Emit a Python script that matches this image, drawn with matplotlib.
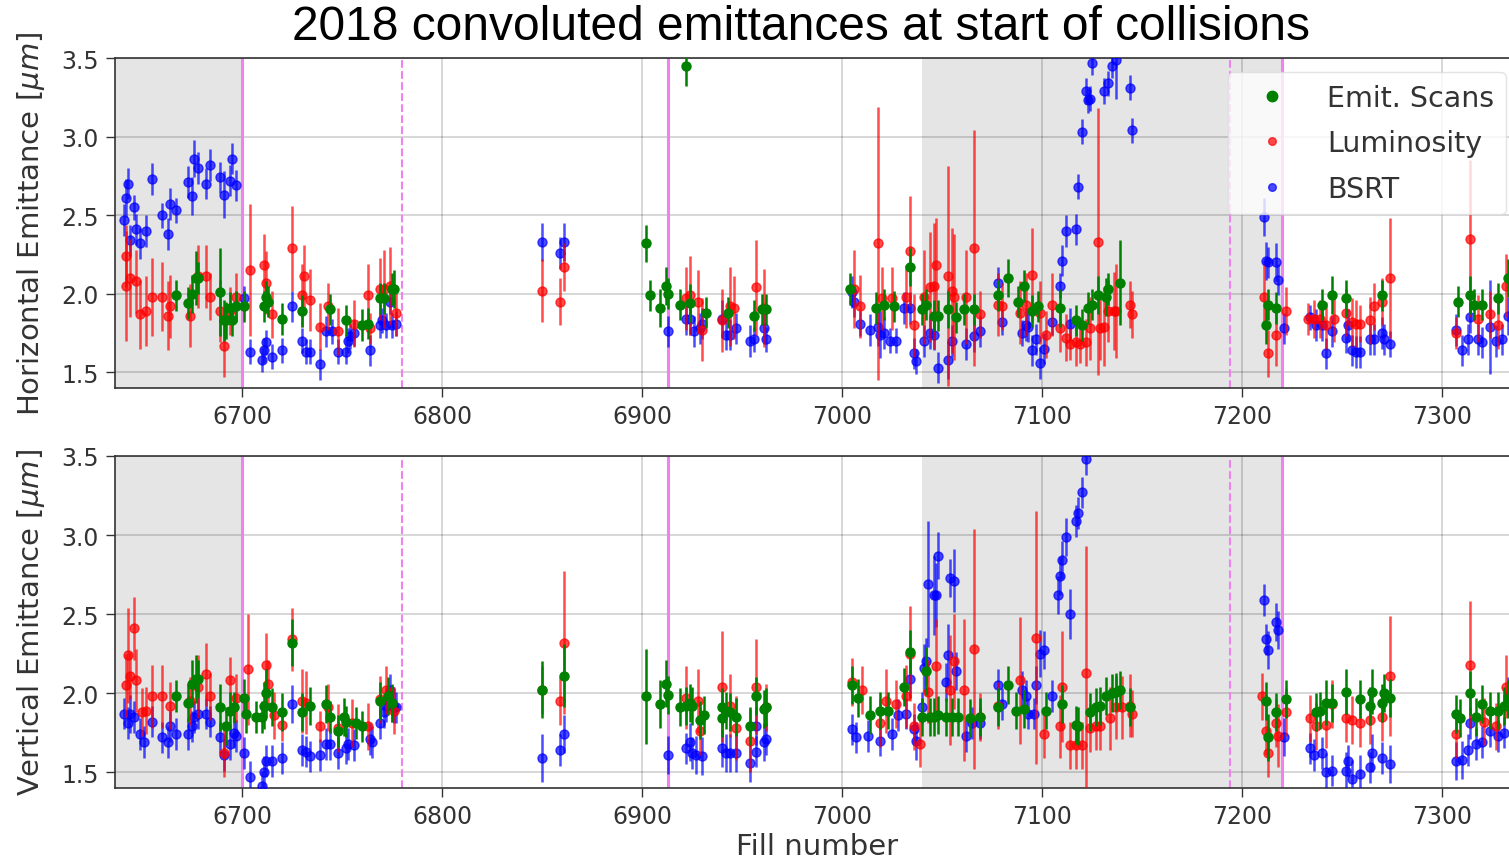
import matplotlib
matplotlib.use("Agg")
import matplotlib.pyplot as plt
from matplotlib.lines import Line2D

# ---------------- horizontal plane ----------------
h_scan_fill = [6667, 6673, 6675, 6677, 6678, 6689, 6691, 6692, 6694, 6695, 6697, 6701, 6711,
               6712, 6713, 6720, 6730, 6744, 6752, 6760, 6763, 6769, 6771, 6775, 6776,
               6902, 6904, 6909, 6912, 6913, 6919, 6922, 6924, 6932, 6943, 6956, 6960, 6962,
               7004, 7017, 7021, 7026, 7034, 7040, 7042, 7046, 7048, 7053, 7057, 7061, 7066,
               7078, 7083, 7088, 7091, 7095, 7098, 7109, 7117, 7120, 7123, 7125, 7128, 7132,
               7133, 7139,
               7212, 7213, 7217, 7240, 7245, 7252, 7270, 7308, 7314, 7316, 7320, 7328, 7333]
h_scan_val = [1.99, 1.94, 2.00, 2.10, 2.10, 2.01, 1.83, 1.83, 1.91, 1.83, 1.92, 1.92, 1.92,
              1.98, 1.95, 1.84, 1.89, 1.90, 1.83, 1.80, 1.81, 1.97, 1.97, 2.03, 2.03,
              2.32, 1.99, 1.91, 2.05, 2.00, 1.93, 3.45, 1.94, 1.88, 1.88, 1.86, 1.90, 1.90,
              2.03, 1.91, 1.93, 1.92, 2.17, 1.90, 1.93, 1.86, 1.86, 1.90, 1.85, 1.90, 1.90,
              1.99, 2.10, 1.95, 2.05, 1.89, 1.92, 1.91, 1.83, 1.80, 1.91, 1.93, 1.99, 1.98,
              2.03, 2.07,
              1.80, 1.93, 1.91, 1.93, 1.99, 1.97, 1.99, 1.95, 1.99, 1.93, 1.93, 1.97, 2.10]
h_scan_err = [0.10, 0.10, 0.12, 0.17, 0.10, 0.28, 0.13, 0.12, 0.10, 0.10, 0.10, 0.10, 0.10,
              0.10, 0.10, 0.10, 0.10, 0.10, 0.10, 0.10, 0.10, 0.10, 0.10, 0.10, 0.12,
              0.12, 0.10, 0.12, 0.12, 0.10, 0.10, 0.13, 0.12, 0.10, 0.10, 0.10, 0.10, 0.10,
              0.10, 0.10, 0.10, 0.10, 0.12, 0.10, 0.10, 0.10, 0.10, 0.12, 0.10, 0.10, 0.10,
              0.10, 0.12, 0.10, 0.10, 0.10, 0.10, 0.12, 0.10, 0.10, 0.10, 0.10, 0.12, 0.12,
              0.10, 0.27,
              0.12, 0.10, 0.10, 0.10, 0.12, 0.12, 0.10, 0.10, 0.12, 0.10, 0.10, 0.10, 0.12]

h_lumi_fill = [6642, 6642, 6644, 6647, 6649, 6652, 6655, 6660, 6663, 6664, 6674, 6678, 6682,
               6684, 6689, 6691, 6694, 6697, 6704, 6711, 6712, 6715, 6725, 6730, 6731, 6734,
               6739, 6743, 6748, 6756, 6763, 6764, 6769, 6771, 6774, 6777,
               6850, 6859, 6861, 6922, 6924, 6928, 6930, 6940, 6944, 6946, 6957, 6961,
               7006, 7009, 7018, 7020, 7025, 7032, 7034, 7036, 7041, 7044, 7046, 7047, 7053,
               7055, 7056, 7062, 7066, 7069, 7078, 7080, 7089, 7092, 7095, 7099, 7102, 7105,
               7109, 7112, 7114, 7117, 7119, 7122, 7124, 7128, 7129, 7131, 7133, 7136, 7137,
               7144, 7145,
               7211, 7213, 7217, 7222, 7233, 7236, 7239, 7242, 7246, 7252, 7255, 7257, 7259,
               7264, 7266, 7270, 7274, 7307, 7314, 7318, 7324, 7328, 7332]
h_lumi_val = [2.05, 2.24, 2.10, 2.08, 1.87, 1.89, 1.98, 1.98, 1.86, 1.92, 1.86, 2.11, 2.11,
              1.98, 1.89, 1.67, 1.89, 1.98, 2.15, 2.18, 2.07, 1.87, 2.29, 1.99, 2.11, 1.96,
              1.79, 1.92, 1.76, 1.81, 1.99, 1.78, 2.03, 2.03, 2.05, 1.88,
              2.02, 1.95, 2.17, 1.97, 1.99, 1.95, 1.77, 1.83, 1.92, 1.91, 2.04, 1.91,
              2.03, 1.92, 2.32, 1.97, 1.97, 1.98, 2.27, 1.80, 1.98, 2.04, 2.05, 2.18, 2.11,
              2.02, 1.98, 1.98, 2.29, 1.87, 1.93, 1.92, 1.88, 1.93, 2.12, 1.88, 1.74, 1.93,
              1.78, 1.72, 1.68, 1.69, 1.68, 1.69, 1.78, 2.33, 1.78, 1.79, 1.89, 1.89, 1.89,
              1.93, 1.87,
              1.98, 1.62, 1.74, 1.89, 1.84, 1.84, 1.84, 1.80, 1.84, 1.88, 1.82, 1.81, 1.81,
              1.83, 1.92, 1.95, 2.10, 1.75, 2.35, 1.84, 1.87, 1.80, 2.05]
h_lumi_err = [0.35, 0.20, 0.25, 0.20, 0.22, 0.22, 0.25, 0.22, 0.22, 0.20, 0.20, 0.20, 0.20,
              0.15, 0.20, 0.20, 0.15, 0.15, 0.42, 0.20, 0.20, 0.15, 0.27, 0.20, 0.20, 0.20,
              0.15, 0.15, 0.15, 0.15, 0.20, 0.10, 0.20, 0.25, 0.25, 0.15,
              0.20, 0.15, 0.15, 0.20, 0.25, 0.20, 0.20, 0.20, 0.25, 0.20, 0.30, 0.25,
              0.25, 0.20, 0.87, 0.20, 0.20, 0.20, 0.35, 0.20, 0.30, 0.35, 0.40, 0.30, 0.70,
              0.40, 0.40, 0.30, 0.75, 0.15, 0.20, 0.15, 0.20, 0.20, 0.30, 0.20, 0.15, 0.20,
              0.15, 0.15, 0.10, 0.15, 0.12, 0.15, 0.20, 0.85, 0.20, 0.25, 0.20, 0.25, 0.30,
              0.15, 0.15,
              0.20, 0.15, 0.20, 0.15, 0.10, 0.12, 0.12, 0.15, 0.15, 0.15, 0.15, 0.15, 0.12,
              0.15, 0.15, 0.15, 0.38, 0.10, 0.50, 0.15, 0.15, 0.15, 0.20]

h_bsrt_fill = [6641, 6642, 6643, 6644, 6646, 6647, 6649, 6652, 6655, 6660, 6663, 6664, 6667,
               6673, 6675, 6676, 6678, 6682, 6684, 6689, 6691, 6694, 6695, 6697,
               6701, 6704, 6710, 6711, 6712, 6715, 6720, 6725, 6730, 6732, 6734, 6739, 6742,
               6745, 6748, 6752, 6753, 6754, 6756, 6764, 6769, 6770, 6772, 6774, 6775, 6777,
               6850, 6859, 6861, 6913, 6922, 6924, 6926, 6929, 6930, 6940, 6942, 6944, 6947,
               6954, 6956, 6961, 6962,
               7005, 7006, 7009, 7014, 7018, 7019, 7021, 7024, 7027,
               7031, 7034, 7036, 7037, 7041, 7044, 7046, 7048, 7053, 7055, 7062, 7066, 7069,
               7078, 7080, 7090, 7092, 7093, 7095, 7097, 7099, 7101, 7105,
               7109, 7110, 7112, 7114, 7117, 7118, 7120, 7122, 7123, 7124, 7125, 7131, 7133,
               7135, 7137, 7144, 7145,
               7211, 7212, 7213, 7217, 7218, 7221, 7234, 7237, 7240, 7242, 7245, 7252, 7253,
               7255, 7257, 7259, 7264, 7266, 7270, 7271, 7274, 7307, 7310, 7313, 7314, 7318,
               7320, 7324, 7327, 7330, 7333]
h_bsrt_val = [2.47, 2.61, 2.70, 2.34, 2.55, 2.41, 2.32, 2.40, 2.73, 2.50, 2.38, 2.57, 2.53,
              2.71, 2.62, 2.86, 2.80, 2.70, 2.82, 2.74, 2.63, 2.72, 2.86, 2.69,
              1.97, 1.63, 1.58, 1.64, 1.69, 1.60, 1.64, 1.92, 1.70, 1.63, 1.63, 1.55, 1.76,
              1.76, 1.63, 1.63, 1.70, 1.73, 1.75, 1.64, 1.80, 1.83, 1.80, 1.95, 1.80, 1.81,
              2.33, 2.26, 2.33, 1.76, 1.84, 1.84, 1.76, 1.78, 1.81, 1.84, 1.74, 1.74, 1.78,
              1.70, 1.71, 1.78, 1.71,
              2.01, 1.95, 1.81, 1.77, 1.79, 1.74, 1.75, 1.70, 1.70,
              1.91, 1.91, 1.62, 1.57, 1.70, 1.75, 1.74, 1.53, 1.58, 1.70, 1.68, 1.73, 1.76,
              2.07, 1.82, 1.75, 1.80, 1.79, 1.64, 1.71, 1.56, 1.65, 1.82,
              2.05, 2.21, 2.40, 1.81, 2.41, 2.68, 3.03, 3.29, 3.23, 3.24, 3.47, 3.29, 3.34,
              3.45, 3.49, 3.31, 3.04,
              2.49, 2.21, 2.20, 2.20, 2.09, 1.78, 1.85, 1.80, 1.80, 1.62, 1.76, 1.72, 1.80,
              1.64, 1.63, 1.63, 1.71, 1.71, 1.75, 1.71, 1.68, 1.77, 1.64, 1.71, 1.85, 1.71,
              1.69, 1.79, 1.70, 1.71, 1.86]
h_bsrt_err = [0.10, 0.12, 0.10, 0.10, 0.08, 0.10, 0.10, 0.10, 0.10, 0.08, 0.10, 0.10, 0.08,
              0.10, 0.12, 0.12, 0.10, 0.10, 0.10, 0.10, 0.15, 0.10, 0.10, 0.10,
              0.08, 0.08, 0.08, 0.08, 0.08, 0.08, 0.08, 0.10, 0.08, 0.08, 0.08, 0.10, 0.10,
              0.08, 0.08, 0.08, 0.08, 0.08, 0.08, 0.10, 0.08, 0.08, 0.08, 0.08, 0.08, 0.08,
              0.12, 0.10, 0.12, 0.10, 0.10, 0.10, 0.10, 0.10, 0.10, 0.12, 0.10, 0.10, 0.10,
              0.10, 0.08, 0.10, 0.08,
              0.10, 0.10, 0.08, 0.10, 0.12, 0.15, 0.10, 0.08, 0.08,
              0.10, 0.10, 0.10, 0.08, 0.10, 0.10, 0.10, 0.10, 0.12, 0.10, 0.10, 0.10, 0.10,
              0.10, 0.08, 0.08, 0.10, 0.10, 0.10, 0.10, 0.10, 0.10, 0.08,
              0.08, 0.10, 0.10, 0.10, 0.10, 0.08, 0.08, 0.08, 0.08, 0.08, 0.08, 0.08, 0.08,
              0.08, 0.25, 0.08, 0.08,
              0.12, 0.12, 0.10, 0.12, 0.10, 0.10, 0.08, 0.10, 0.10, 0.10, 0.10, 0.10, 0.10,
              0.10, 0.10, 0.10, 0.10, 0.10, 0.10, 0.10, 0.08, 0.10, 0.10, 0.10, 0.10, 0.10,
              0.10, 0.30, 0.10, 0.10, 0.12]

# ---------------- vertical plane ----------------
v_scan_fill = [6667, 6673, 6675, 6677, 6678, 6689, 6692, 6694, 6696, 6701, 6702, 6707, 6710,
               6711, 6712, 6715, 6720, 6725, 6730, 6734, 6742, 6744, 6748, 6751, 6752, 6757,
               6760, 6769, 6773, 6775,
               6850, 6861, 6902, 6909, 6912, 6913, 6919, 6922, 6924, 6925, 6929, 6931, 6940,
               6940, 6942, 6944, 6947, 6954, 6957, 6961, 6962,
               7005, 7008, 7014, 7019, 7023, 7031, 7034, 7040, 7042, 7044, 7046, 7048, 7052,
               7055, 7058, 7064, 7069, 7078, 7083, 7087, 7091, 7102, 7110, 7117, 7118, 7124,
               7127, 7129, 7132, 7135, 7137, 7139, 7144,
               7212, 7213, 7217, 7222, 7237, 7239, 7242, 7245, 7252, 7259, 7264, 7265, 7270,
               7271, 7274, 7307, 7309, 7314, 7317, 7320, 7324, 7328, 7331, 7333]
v_scan_val = [1.98, 1.94, 2.06, 2.09, 2.09, 1.91, 1.79, 1.89, 1.91, 1.97, 1.87, 1.85, 1.85,
              1.92, 2.00, 1.91, 1.88, 2.32, 1.88, 1.92, 1.93, 1.85, 1.76, 1.85, 1.82, 1.81,
              1.79, 1.95, 1.98, 1.94,
              2.02, 2.11, 1.98, 1.93, 2.06, 1.99, 1.91, 1.92, 1.94, 1.92, 1.83, 1.86, 1.84,
              1.91, 1.89, 1.88, 1.85, 1.79, 1.98, 1.90, 1.91,
              2.05, 1.97, 1.86, 1.89, 1.89, 2.04, 2.26, 1.85, 2.14, 1.85, 1.85, 1.86, 1.85,
              1.85, 1.85, 1.84, 1.85, 1.91, 2.05, 1.89, 1.90, 1.89, 1.93, 1.80, 1.79, 1.88,
              1.91, 1.92, 1.98, 2.00, 2.01, 2.02, 1.91,
              1.95, 1.72, 1.88, 1.96, 1.88, 1.89, 1.94, 1.94, 2.01, 1.96, 1.92, 2.01, 1.94,
              2.00, 1.97, 1.87, 1.84, 2.00, 1.85, 1.93, 1.89, 1.89, 1.92, 1.96]
v_scan_err = [0.10, 0.12, 0.15, 0.15, 0.12, 0.15, 0.12, 0.12, 0.10, 0.12, 0.12, 0.10, 0.10,
              0.15, 0.15, 0.12, 0.12, 0.15, 0.12, 0.12, 0.12, 0.10, 0.10, 0.12, 0.10, 0.10,
              0.10, 0.12, 0.12, 0.12,
              0.18, 0.20, 0.30, 0.15, 0.15, 0.12, 0.12, 0.12, 0.12, 0.12, 0.12, 0.12, 0.12,
              0.12, 0.12, 0.12, 0.12, 0.12, 0.12, 0.12, 0.12,
              0.12, 0.12, 0.12, 0.12, 0.12, 0.12, 0.14, 0.12, 0.15, 0.12, 0.12, 0.12, 0.12,
              0.12, 0.12, 0.12, 0.12, 0.12, 0.12, 0.12, 0.12, 0.12, 0.12, 0.12, 0.12, 0.12,
              0.12, 0.12, 0.12, 0.12, 0.12, 0.12, 0.12,
              0.12, 0.15, 0.12, 0.12, 0.12, 0.12, 0.14, 0.12, 0.14, 0.12, 0.12, 0.14, 0.12,
              0.12, 0.12, 0.12, 0.12, 0.14, 0.12, 0.12, 0.12, 0.12, 0.12, 0.12]

v_lumi_fill = [6642, 6643, 6644, 6646, 6647, 6650, 6652, 6655, 6660, 6664, 6674, 6678, 6682,
               6684, 6691, 6694, 6697, 6703, 6712, 6713, 6716, 6720, 6725, 6730, 6732, 6739,
               6743, 6748, 6755, 6763, 6769, 6772, 6776,
               6850, 6859, 6861, 6922, 6928, 6929, 6940, 6944, 6947, 6954, 6957, 6962,
               7005, 7010, 7019, 7022, 7027, 7032, 7034, 7036, 7039, 7043, 7047, 7054, 7056,
               7061, 7066, 7069, 7078, 7089, 7097, 7101, 7109, 7110, 7114, 7117, 7120, 7122,
               7124, 7127, 7129, 7134, 7137, 7140, 7144, 7145,
               7210, 7212, 7213, 7217, 7218, 7222, 7234, 7237, 7242, 7245, 7252, 7255, 7259,
               7264, 7270, 7274, 7307, 7314, 7321, 7327, 7332]
v_lumi_val = [2.05, 2.24, 2.11, 2.41, 2.08, 1.88, 1.89, 1.98, 1.98, 1.92, 1.95, 2.04, 2.12,
              1.98, 1.62, 2.08, 1.97, 2.15, 2.18, 2.06, 1.86, 1.80, 2.34, 1.95, 1.94, 1.79,
              1.91, 1.78, 1.81, 1.79, 1.96, 2.02, 1.89,
              2.02, 1.95, 2.32, 1.97, 1.95, 1.76, 2.04, 1.92, 1.78, 1.70, 2.04, 1.91,
              2.07, 2.02, 1.81, 1.95, 1.93, 1.98, 2.25, 1.79, 1.68, 2.01, 2.17, 2.02, 2.20,
              2.02, 2.28, 1.85, 1.92, 2.08, 2.35, 1.74, 1.79, 2.04, 1.67, 1.67, 1.67, 2.13,
              1.78, 1.79, 1.79, 1.84, 1.91, 1.91, 1.92, 1.87,
              1.98, 1.76, 1.62, 1.81, 1.73, 1.88, 1.84, 1.79, 1.80, 1.93, 1.84, 1.83, 1.81,
              1.83, 1.85, 2.11, 1.74, 2.18, 1.82, 1.79, 2.04]
v_lumi_err = [0.20, 0.30, 0.15, 0.20, 0.20, 0.15, 0.15, 0.20, 0.20, 0.15, 0.15, 0.20, 0.20,
              0.15, 0.15, 0.15, 0.15, 0.35, 0.20, 0.15, 0.15, 0.10, 0.20, 0.20, 0.20, 0.10,
              0.15, 0.15, 0.15, 0.15, 0.15, 0.15, 0.15,
              0.15, 0.15, 0.45, 0.20, 0.20, 0.15, 0.35, 0.20, 0.20, 0.20, 0.30, 0.15,
              0.15, 0.15, 0.15, 0.20, 0.15, 0.20, 0.30, 0.15, 0.15, 0.20, 0.30, 0.35, 0.30,
              0.45, 0.76, 0.15, 0.15, 0.40, 0.80, 0.15, 0.20, 0.35, 0.15, 0.15, 0.15, 0.80,
              0.15, 0.15, 0.15, 0.20, 0.20, 0.20, 0.20, 0.15,
              0.15, 0.15, 0.15, 0.15, 0.20, 0.15, 0.15, 0.15, 0.15, 0.15, 0.15, 0.15, 0.15,
              0.15, 0.15, 0.38, 0.15, 0.40, 0.15, 0.15, 0.20]

v_bsrt_fill = [6641, 6643, 6644, 6646, 6649, 6651, 6655, 6660, 6663, 6664, 6667, 6673, 6675,
               6676, 6678, 6682, 6684, 6689, 6691, 6694, 6696, 6697,
               6701, 6704, 6710, 6711, 6712, 6715, 6720, 6725, 6730, 6732, 6734, 6739, 6742,
               6744, 6748, 6752, 6753, 6756, 6764, 6765, 6769, 6771, 6772, 6774, 6775, 6776,
               6777,
               6850, 6859, 6861, 6913, 6922, 6924, 6925, 6927, 6930, 6940, 6942, 6944, 6947,
               6954, 6957, 6957, 6961, 6962,
               7005, 7007, 7013, 7019, 7025, 7028,
               7032, 7034, 7036, 7037, 7040, 7041, 7042, 7043, 7046, 7047, 7048, 7052, 7053,
               7054, 7056, 7057, 7062, 7065, 7069,
               7078, 7080, 7090, 7092, 7093, 7096, 7097, 7099, 7101, 7105,
               7108, 7109, 7110, 7112, 7114, 7117, 7118, 7120, 7122,
               7211, 7212, 7213, 7217, 7218, 7221, 7234, 7236, 7240, 7242, 7245, 7252, 7253,
               7255, 7259, 7264, 7265, 7270, 7274, 7307, 7310, 7313, 7314, 7317, 7320, 7324,
               7328, 7331, 7333]
v_bsrt_val = [1.87, 1.81, 1.87, 1.85, 1.74, 1.69, 1.82, 1.72, 1.69, 1.79, 1.74, 1.74, 1.79,
              1.85, 1.87, 1.87, 1.82, 1.72, 1.61, 1.68, 1.75, 1.73,
              1.62, 1.47, 1.41, 1.50, 1.57, 1.57, 1.59, 1.93, 1.64, 1.63, 1.60, 1.61, 1.68,
              1.68, 1.62, 1.65, 1.68, 1.67, 1.71, 1.69, 1.81, 1.88, 1.92, 2.02, 1.92, 1.91,
              1.91,
              1.59, 1.64, 1.74, 1.61, 1.65, 1.69, 1.62, 1.61, 1.60, 1.65, 1.62, 1.62, 1.62,
              1.56, 1.63, 1.79, 1.69, 1.71,
              1.77, 1.72, 1.73, 1.70, 1.74, 1.86,
              1.87, 2.09, 1.77, 1.70, 1.91, 2.16, 2.20, 2.69, 2.62, 2.62, 2.87, 2.07, 2.24,
              2.73, 2.71, 2.14, 1.73, 1.81, 1.81,
              2.05, 1.93, 2.02, 1.98, 1.87, 1.87, 2.05, 2.25, 2.27, 1.98,
              2.62, 2.74, 2.84, 2.99, 2.50, 3.09, 3.14, 3.27, 3.48,
              2.59, 2.34, 2.27, 2.45, 2.40, 1.72, 1.65, 1.61, 1.62, 1.50, 1.51, 1.51, 1.57,
              1.46, 1.49, 1.53, 1.62, 1.59, 1.55, 1.57, 1.58, 1.64, 1.81, 1.68, 1.69, 1.76,
              1.73, 1.75, 1.98]
v_bsrt_err = [0.10, 0.10, 0.12, 0.10, 0.10, 0.10, 0.10, 0.10, 0.10, 0.10, 0.10, 0.10, 0.10,
              0.10, 0.10, 0.10, 0.10, 0.10, 0.10, 0.10, 0.10, 0.10,
              0.10, 0.10, 0.10, 0.10, 0.10, 0.10, 0.10, 0.12, 0.10, 0.10, 0.10, 0.10, 0.10,
              0.10, 0.10, 0.10, 0.10, 0.10, 0.10, 0.10, 0.10, 0.10, 0.10, 0.10, 0.10, 0.10,
              0.10,
              0.15, 0.10, 0.12, 0.12, 0.10, 0.12, 0.10, 0.12, 0.12, 0.12, 0.12, 0.12, 0.12,
              0.12, 0.10, 0.12, 0.12, 0.10,
              0.10, 0.10, 0.10, 0.10, 0.10, 0.10,
              0.10, 0.12, 0.10, 0.12, 0.10, 0.15, 0.15, 0.40, 0.25, 0.20, 0.15, 0.12, 0.20,
              0.12, 0.20, 0.12, 0.10, 0.10, 0.10,
              0.10, 0.10, 0.12, 0.10, 0.10, 0.10, 0.12, 0.15, 0.12, 0.10,
              0.12, 0.12, 0.12, 0.12, 0.16, 0.10, 0.10, 0.10, 0.10,
              0.10, 0.10, 0.12, 0.12, 0.12, 0.12, 0.10, 0.10, 0.10, 0.12, 0.10, 0.12, 0.10,
              0.12, 0.12, 0.10, 0.12, 0.10, 0.12, 0.12, 0.12, 0.10, 0.10, 0.10, 0.10, 0.10,
              0.10, 0.10, 0.12]

# shaded periods and markers of the run
shaded_periods = [(6600, 6700), (7040, 7220)]
solid_markers = [6700, 6913, 7220]
dashed_markers = [6780, 7194]

labels = ["Emit. Scans", "Luminosity", "BSRT"]
colors = ["green", "red", "blue"]
alphas = [1.0, 0.7, 0.7]

fig = plt.figure(figsize=(15.09, 8.62), dpi=100)
ax_h = fig.add_axes([0.0762, 0.5487, 0.9311, 0.3828])
ax_v = fig.add_axes([0.0762, 0.0847, 0.9311, 0.3852])


def draw_panel(ax, series, ylabel):
    for x0, x1 in shaded_periods:
        ax.axvspan(x0, x1, color="grey", alpha=0.2, lw=0, zorder=0)
    for x in solid_markers:
        ax.axvline(x, color="violet", lw=2.2, zorder=1.5)
    for x in dashed_markers:
        ax.axvline(x, color="violet", lw=1.5, ls="--", zorder=1.5)

    # bsrt first, then lumi, scans on top
    for (fills, vals, errs), c, a, z in zip(series, colors, alphas, [5, 4, 3]):
        ax.errorbar(fills, vals, yerr=errs, fmt="o", color=c, ecolor=c, alpha=a,
                    ms=6.5, elinewidth=1.8, capsize=0, zorder=z)

    ax.set_xlim(6636.5, 7339)
    ax.set_ylim(1.4, 3.5)
    ax.set_xticks([6700, 6800, 6900, 7000, 7100, 7200, 7300])
    ax.set_yticks([1.5, 2.0, 2.5, 3.0, 3.5])
    ax.set_axisbelow(True)
    ax.grid(color="black", alpha=0.17, lw=1.3)
    ax.tick_params(labelsize=17, length=6.5, width=1.0, color="#333333",
                   labelcolor="#333333", pad=5)
    for sp in ax.spines.values():
        sp.set_color("#333333")
        sp.set_linewidth(1.2)
    ax.set_ylabel(ylabel, fontsize=21, color="#333333", labelpad=10)


draw_panel(ax_h, [(h_scan_fill, h_scan_val, h_scan_err),
                  (h_lumi_fill, h_lumi_val, h_lumi_err),
                  (h_bsrt_fill, h_bsrt_val, h_bsrt_err)],
           r"Horizontal Emittance [$\mu m$]")
draw_panel(ax_v, [(v_scan_fill, v_scan_val, v_scan_err),
                  (v_lumi_fill, v_lumi_val, v_lumi_err),
                  (v_bsrt_fill, v_bsrt_val, v_bsrt_err)],
           r"Vertical Emittance [$\mu m$]")
ax_v.set_xlabel("Fill number", fontsize=21, color="#333333", labelpad=3)

handles = [Line2D([], [], ls="none", marker="o", color=c, alpha=a, ms=ms)
           for c, a, ms in zip(colors, alphas, [7.5, 5.5, 5.5])]
leg = ax_h.legend(handles, labels, loc="upper right", fontsize=20.5,
                  handletextpad=0.8, handlelength=2.3, borderpad=0.4, labelspacing=0.62)
leg.get_frame().set_edgecolor("#dddddd")
for t in leg.get_texts():
    t.set_color("#333333")

fig.text(801 / 1509, 1 - 28 / 862, "2018 convoluted emittances at start of collisions",
         ha="center", va="center", fontsize=34.5, family="Liberation Sans")

fig.savefig("out.png", dpi=100)
